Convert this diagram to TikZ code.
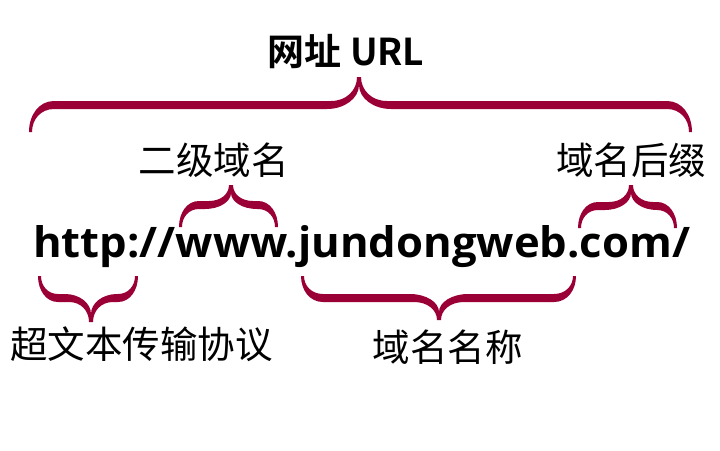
\documentclass[tikz,border=0pt]{standalone}
\usepackage{fontspec}
\usepackage{graphicx}
\newfontfamily\cjk{Noto Sans CJK SC}
\newfontfamily\cjkb{Noto Sans CJK SC Bold}
\newfontfamily\urlf{Open Sans}
\definecolor{bracered}{HTML}{9A0036}
% filled curly brace in local coords: ends at y=0, bar centre at y=#4, tip at (#2,#3)
% #1 length, #2 tip x, #3 tip height, #4 bar height, #5 end radius, #6 tip arm width
\newcommand\urlbrace[6]{%
\fill[bracered] (0,0)
 .. controls (0,{0.55*(#4+4)}) and ({0.4*#5},{#4+4}) .. (#5,{#4+4})
 -- ({#2-#6},{#4+4})
 .. controls ({#2-0.45*#6},{#4+4}) and ({#2-2},{#4+4+0.45*(#3-#4-4)}) .. ({#2-2},#3)
 -- ({#2+2},#3)
 .. controls ({#2+2},{#4+4+0.45*(#3-#4-4)}) and ({#2+0.45*#6},{#4+4}) .. ({#2+#6},{#4+4})
 -- ({#1-#5},{#4+4})
 .. controls ({#1-0.4*#5},{#4+4}) and (#1,{0.55*(#4+4)}) .. (#1,0)
 -- ({#1-3},0)
 .. controls ({#1-3},{0.55*(#4-4)}) and ({#1-3-0.4*(#5-3)},{#4-4}) .. ({#1-#5},{#4-4})
 -- ({#2+#6+4},{#4-4})
 .. controls ({#2+0.45*(#6+4)},{#4-4}) and (#2,{#4-4+0.45*(#3-#4-4)}) .. (#2,{#3-8})
 .. controls (#2,{#4-4+0.45*(#3-#4-4)}) and ({#2-0.45*(#6+4)},{#4-4}) .. ({#2-#6-4},{#4-4})
 -- (#5,{#4-4})
 .. controls ({3+0.4*(#5-3)},{#4-4}) and (3,{0.55*(#4-4)}) .. (3,0)
 -- cycle;}
\tikzset{
  lab/.style={inner sep=0pt, font=\cjk\fontsize{37.5}{40}\selectfont},
  ttl/.style={inner sep=0pt, font=\cjkb\fontsize{37}{40}\selectfont},
}
\begin{document}
\begin{tikzpicture}[x=1pt,y=-1pt]
\fill[white] (0,0) rectangle (720,450);
\useasboundingbox (0,0) rectangle (720,450);
% braces
\begin{scope}[shift={(29,132)},yscale=-1]
  \urlbrace{663}{330}{55}{27}{25}{28}
\end{scope}
\begin{scope}[shift={(179,227)},yscale=-1]
  \urlbrace{99}{52}{42}{22}{20}{22}
\end{scope}
\begin{scope}[shift={(578,228)},yscale=-1]
  \urlbrace{99}{53}{43}{22}{20}{22}
\end{scope}
\begin{scope}[shift={(38,276)}]
  \urlbrace{100}{53}{46}{22}{20}{22}
\end{scope}
\begin{scope}[shift={(301,276)}]
  \urlbrace{275}{138}{44}{22}{22}{25}
\end{scope}
% texts
\node[ttl] (title) at (346,51.5) {网址 URL};
\node[lab] (sld) at (213.5,160) {二级域名};
\node[lab] (suf) at (631,160) {域名后缀};
\node[lab] (proto) at (141.5,344) {超文本传输协议};
\node[lab] (dom) at (447.5,347) {域名名称};
\node[anchor=base west, inner sep=0pt] (url) at (33,257)
  {\resizebox{657pt}{32pt}{\urlf\bfseries http://www.jundongweb.com/}};
\end{tikzpicture}
\end{document}
